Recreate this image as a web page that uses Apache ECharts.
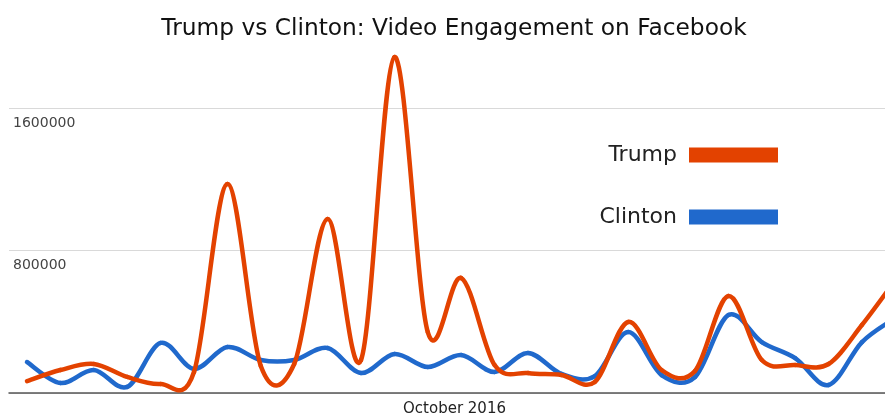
<!DOCTYPE html>
<html>
<head>
<meta charset="utf-8">
<script src="https://cdn.jsdelivr.net/npm/echarts@6/dist/echarts.min.js"></script>
<style>html,body{margin:0;padding:0;background:#fff}#c{width:885px;height:417px}</style>
</head>
<body>
<div id="c"></div>
<script>
// Day index within the visible window (October 2016)
var days = [0,1,2,3,4,5,6,7,8,9,10,11,12,13,14,15,16,17,18,19,20,21,22,23,24,25,26];
var trump = [67000,129000,163000,90000,51000,118000,1173000,152000,163000,977000,185000,1886000,342000,646000,157000,112000,101000,62000,399000,129000,124000,545000,185000,157000,163000,382000,634000];
var clinton = [174000,56000,129000,34000,281000,135000,258000,185000,185000,253000,112000,219000,146000,213000,118000,225000,107000,95000,342000,101000,90000,438000,286000,196000,45000,286000,421000];
var yTicks = [0,800000,1600000,2400000];
var xTitle = 'October 2016';
var chartTitle = 'Trump vs Clinton: Video Engagement on Facebook';

var chart = echarts.init(document.getElementById('c'), null, {renderer:'canvas'});
function pairs(arr){ return days.map(function(d,i){ return [d, arr[i]]; }); }

// Smooth (cardinal / Catmull-Rom) line drawn through the axis scales
function splineSeries(name, arr, color, z){
  var n = arr.length, k = 1/6;
  return {
    name:name, type:'custom', coordinateSystem:'cartesian2d', z:z, clip:true,
    itemStyle:{color:color},
    encode:{x:0, y:1},
    data:pairs(arr),
    renderItem:function(params, api){
      var i = params.dataIndex;
      if (i >= n-1) return null;
      function pt(j){ j = Math.max(0, Math.min(n-1, j)); return api.coord([days[j], arr[j]]); }
      var p0 = pt(i-1), p1 = pt(i), p2 = pt(i+1), p3 = pt(i+2);
      return {
        type:'bezierCurve',
        shape:{
          x1:p1[0], y1:p1[1], x2:p2[0], y2:p2[1],
          cpx1:p1[0] + (p2[0]-p0[0])*k, cpy1:p1[1] + (p2[1]-p0[1])*k,
          cpx2:p2[0] - (p3[0]-p1[0])*k, cpy2:p2[1] - (p3[1]-p1[1])*k
        },
        style:{stroke:color, fill:'none', lineWidth:4.5, lineCap:'round'}
      };
    }
  };
}

chart.setOption({
  animation:false,
  backgroundColor:'#fff',
  title:{
    text: chartTitle, left: 449, top: 12, textAlign:'center',
    textStyle:{fontFamily:'DejaVu Sans', fontSize:23.3, fontWeight:'normal', color:'#111'}
  },
  legend:{
    orient:'vertical', right:102, top:138, align:'right',
    itemWidth:89, itemHeight:15, itemGap:38, icon:'rect',
    textStyle:{fontFamily:'DejaVu Sans', fontSize:22, color:'#222', lineHeight:24, padding:[0,7,0,0]},
    data:['Trump','Clinton']
  },
  grid:{left:9, right:0, top:-34.5, bottom:24, containLabel:false, outerBoundsMode:'none'},
  xAxis:{
    type:'value', min:-0.539, max:25.689,
    name: xTitle, nameLocation:'middle', nameGap:9,
    nameTextStyle:{fontFamily:'DejaVu Sans', fontSize:15, color:'#222', padding:[0,0,0,15], verticalAlign:'top'},
    axisLine:{show:true, lineStyle:{color:'#555', width:1.5}},
    axisTick:{show:false}, axisLabel:{show:false}, splitLine:{show:false}
  },
  yAxis:{
    type:'value', min:yTicks[0], max:yTicks[yTicks.length-1], interval:800000,
    axisLine:{show:false}, axisTick:{show:false},
    axisLabel:{inside:true, margin:4, showMinLabel:false, showMaxLabel:false, verticalAlign:'top', padding:[8,0,0,0],
      formatter:function(v){ return String(v); },
      fontFamily:'DejaVu Sans', fontSize:14, color:'#444'},
    splitLine:{show:true, lineStyle:{color:'#d9d9d9', width:1}}
  },
  series:[
    splineSeries('Trump', trump, '#e34200', 3),
    splineSeries('Clinton', clinton, '#2069cc', 2)
  ]
});
</script>
</body>
</html>
